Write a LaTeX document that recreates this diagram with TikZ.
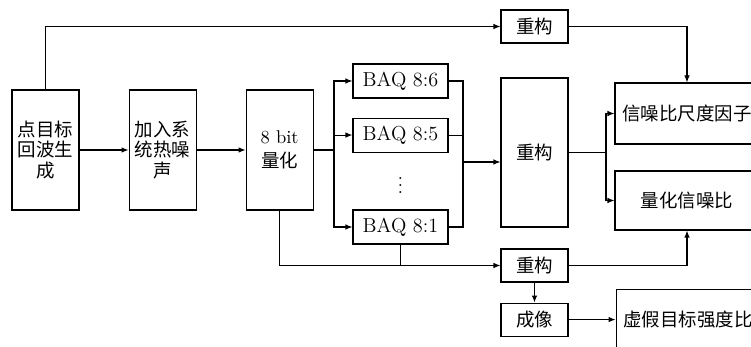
\documentclass[tikz,border=0pt]{standalone}
\usepackage{fontspec}
\newfontfamily\cjk{Noto Sans CJK SC}
\usepackage{tikz}
\usetikzlibrary{positioning,arrows.meta,calc}

\begin{document}
\begin{tikzpicture}[
  font=\fontsize{10.5}{11.5}\selectfont,
  >={Latex[length=1.4mm,width=1.1mm]},
  line width=0.6pt,
  node distance = 0.98cm and 0.98cm,
  %% Box styles
  zh/.style     = {font=\fontsize{10.5}{11.5}\selectfont\cjk},
  stage/.style  = {draw, minimum width=1.34cm, minimum height=2.4cm,
                   align=center, inner sep=2pt},
  baqbox/.style = {draw, minimum width=1.9cm, minimum height=0.68cm,
                   inner sep=2pt, font=\fontsize{11.5}{13}\selectfont},
  recbox/.style = {draw, zh, minimum width=1.34cm, minimum height=0.66cm,
                   inner sep=2pt},
  recbig/.style = {draw, zh, minimum width=1.34cm, minimum height=2.98cm,
                   inner sep=2pt},
  outbox/.style = {draw, zh, minimum width=2.88cm, minimum height=1.22cm,
                   inner sep=2pt},
]

\clip (0,0) rectangle (15.02,-6.94);

%% ── Chain: echo, noise, quantisation ───────────────────────────
\node[stage, zh] (echo) at (0.91,-3.0) {点目标\\回波生\\成};
\node[stage, zh, right=of echo] (noise) {加入系\\统热噪\\声};
\node[stage, right=of noise] (quant) {8 bit\\[2pt]\cjk 量化};

%% ── BAQ branches ───────────────────────────────────────────────
\node[baqbox] (baq6) at (8.01,-1.62) {BAQ 8:6};
\node[baqbox, below=0.38cm of baq6] (baq5) {BAQ 8:5};
\node[inner sep=0pt] (dots) at (8.01,-3.6) {$\vdots$};
\node[baqbox] (baq1) at (8.01,-4.54) {BAQ 8:1};

%% ── Reconstruction ─────────────────────────────────────────────
\node[recbox] (rectop) at (10.69,-0.53) {重构};
\node[recbig] (recon) at (10.69,-3.05) {重构};
\node[recbox] (reclow) at (10.69,-5.31) {重构};
\node[recbox, below=0.4cm of reclow] (imaging) {成像};

%% ── Outputs ────────────────────────────────────────────────────
\node[outbox] (scale) at (13.74,-2.27) {信噪比尺度因子};
\node[outbox, minimum height=1.18cm] (qsnr) at (13.74,-4.01) {量化信噪比};
\node[outbox, right=0.94cm of imaging] (fake) {虚假目标强度比};

%% ── Arrows: chain ──────────────────────────────────────────────
\draw[->] (echo) -- (noise);
\draw[->] (noise) -- (quant);

%% ── Arrows: fan out to BAQ, join into reconstruction ───────────
\coordinate (fork) at (6.68,-3.0);
\draw (quant) -- (fork);
\foreach \b in {baq6,baq5,baq1} \draw[->] (fork) |- (\b.west);
\coordinate (join) at (9.26,-3.24);
\foreach \b in {baq6,baq5,baq1} \draw (\b.east) -| (join);
\draw[->] (join) -- (join -| recon.west);

%% ── Arrows: reconstruction to outputs ──────────────────────────
\coordinate (split) at (12.12,-3.05);
\draw (recon) -- (split);
\draw[->] (split) |- (scale.west);
\draw[->] (split) |- (qsnr.west);

%% ── Arrows: top path ───────────────────────────────────────────
\draw[->] (echo.north) |- (rectop.west);
\draw[->] (rectop.east) -| (scale.north);

%% ── Arrows: bottom path ────────────────────────────────────────
\draw[->] (quant.south) |- (reclow.west);
\draw (baq1.south) -- (baq1.south |- reclow.west);
\draw[->] (reclow.east) -| (qsnr.south);
\draw[->] (reclow) -- (imaging);
\draw[->] (imaging) -- (fake);

\end{tikzpicture}
\end{document}
